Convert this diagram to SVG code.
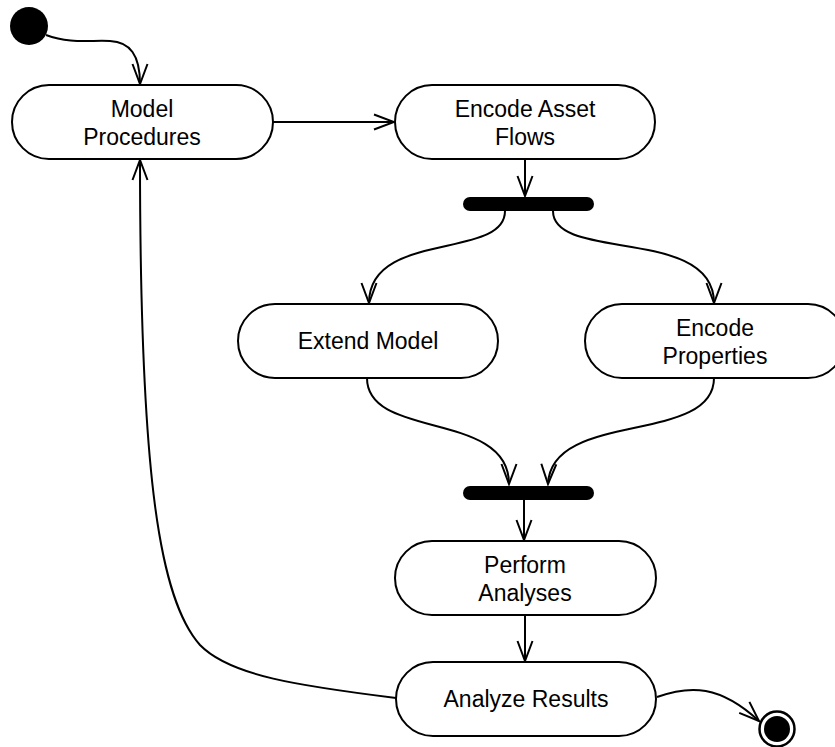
<svg xmlns="http://www.w3.org/2000/svg" width="835" height="747" viewBox="0 0 835 747">
  <style>
    .action { fill: #ffffff; stroke: #000000; stroke-width: 2; }
    .bar { fill: #000000; }
    .label { font-family: "Liberation Sans", Arial, Helvetica, sans-serif; font-size: 23px; fill: #000000; text-anchor: middle; }
    .flow { fill: none; stroke: #000000; stroke-width: 2; marker-end: url(#open-arrow); }
  </style>
  <defs>
    <marker id="open-arrow" markerUnits="userSpaceOnUse" markerWidth="24" markerHeight="20" viewBox="-22 -10 24 20" refX="0" refY="0" orient="auto">
      <polyline points="-20,-7.5 0,0 -20,7.5" fill="none" stroke="#000000" stroke-width="2"/>
    </marker>
  </defs>

  <rect width="835" height="747" fill="#ffffff"/>

  <!-- control flows -->
  <g id="connectors">
    <path class="flow" d="M46,35 C70,44 90,40 110,41 C130,42 140,55 140,84"/>
    <path class="flow" d="M273,122 L394,122"/>
    <path class="flow" d="M525,159 L525,196"/>
    <path class="flow" d="M505,211 C505,260 369,230 369,303"/>
    <path class="flow" d="M553,211 C553,262 714,226 714,303"/>
    <path class="flow" d="M367,378 C367,440 509,410 509,484"/>
    <path class="flow" d="M714,378 C714,445 551,410 548,484"/>
    <path class="flow" d="M524,500 L524,540"/>
    <path class="flow" d="M525,615 L525,661"/>
    <path class="flow" d="M396,698 C300,686 230,676 200,645 C160,600 140,480 140,160"/>
    <path class="flow" d="M657,697 C690,685 720,685 759,721"/>
  </g>

  <g id="start">
    <circle cx="29" cy="26" r="19" fill="#000000"/>
  </g>

  <g id="model-procedures">
    <rect class="action" x="12" y="85" width="261" height="74" rx="37" ry="37"/>
    <text class="label" x="142" y="117">Model</text>
    <text class="label" x="142" y="145">Procedures</text>
  </g>

  <g id="encode-asset-flows">
    <rect class="action" x="395" y="85" width="260" height="74" rx="37" ry="37"/>
    <text class="label" x="525" y="117">Encode Asset</text>
    <text class="label" x="525" y="145">Flows</text>
  </g>

  <g id="fork">
    <rect class="bar" x="463" y="197" width="131" height="14" rx="7" ry="7"/>
  </g>

  <g id="extend-model">
    <rect class="action" x="238" y="304" width="260" height="74" rx="37" ry="37"/>
    <text class="label" x="368" y="349">Extend Model</text>
  </g>

  <g id="encode-properties">
    <rect class="action" x="585" y="304" width="260" height="74" rx="37" ry="37"/>
    <text class="label" x="715" y="336">Encode</text>
    <text class="label" x="715" y="364">Properties</text>
  </g>

  <g id="join">
    <rect class="bar" x="463" y="486" width="131" height="14" rx="7" ry="7"/>
  </g>

  <g id="perform-analyses">
    <rect class="action" x="395" y="541" width="261" height="74" rx="37" ry="37"/>
    <text class="label" x="525" y="573">Perform</text>
    <text class="label" x="525" y="601">Analyses</text>
  </g>

  <g id="analyze-results">
    <rect class="action" x="396" y="662" width="260" height="74" rx="37" ry="37"/>
    <text class="label" x="526" y="707">Analyze Results</text>
  </g>

  <g id="end">
    <circle cx="777" cy="729" r="17.5" fill="#ffffff" stroke="#000000" stroke-width="2.5"/>
    <circle cx="777" cy="729" r="13" fill="#000000"/>
  </g>
</svg>
